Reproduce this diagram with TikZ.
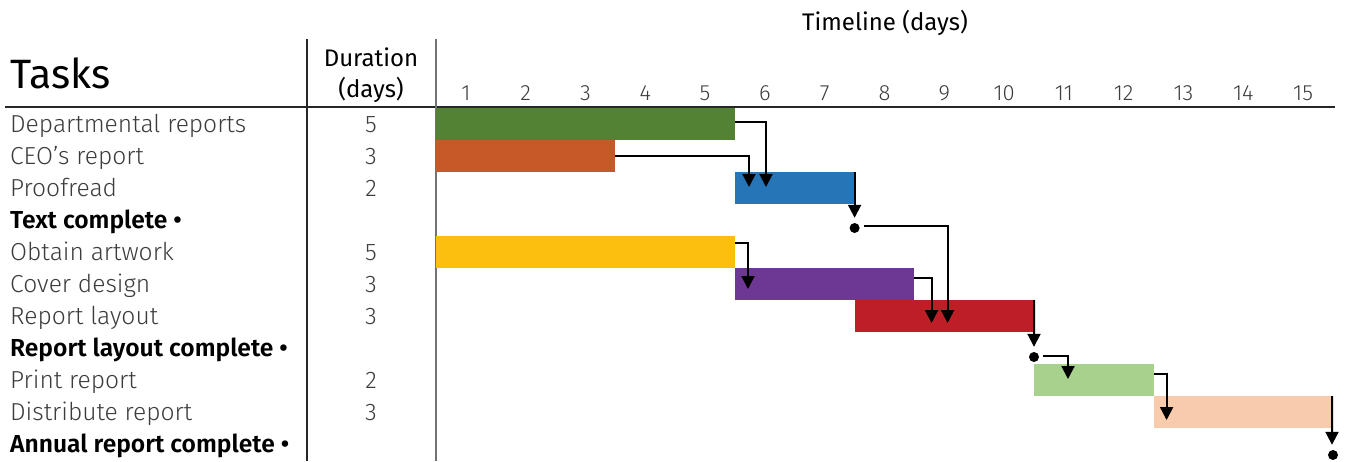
\documentclass[tikz,border=0pt]{standalone}
\usepackage{fontspec}
\setmainfont{Fira Sans}[UprightFont=* Light, BoldFont=* SemiBold]
\newfontfamily\regfont{Fira Sans}
\usetikzlibrary{arrows.meta,calc}
\definecolor{cgreen}{RGB}{84,130,53}
\definecolor{corange}{RGB}{197,90,40}
\definecolor{cblue}{RGB}{38,117,182}
\definecolor{cyellow}{RGB}{252,191,16}
\definecolor{cpurple}{RGB}{109,56,148}
\definecolor{cred}{RGB}{190,30,38}
\definecolor{clgreen}{RGB}{169,209,142}
\definecolor{cpeach}{RGB}{248,203,173}
\definecolor{ctext}{RGB}{60,60,60}
\begin{document}
\begin{tikzpicture}[x=1pt,y=-1pt,
  bar/.style={anchor=north west, minimum height=32pt, inner sep=0pt, outer sep=0pt},
  ms/.style={circle, fill=black, minimum size=10pt, inner sep=0pt},
  dep/.style={line width=2pt, -{Triangle[width=13pt,length=13pt]}},
  rule/.style={line width=1.2pt, black!85},
  task/.style={anchor=base west, inner sep=0pt, font=\fontsize{24.6}{28}\selectfont, text=ctext},
  mtask/.style={anchor=base west, inner sep=0pt, font=\fontsize{24.6}{28}\bfseries, text=black},
  dur/.style={anchor=base, inner sep=0pt, font=\fontsize{24}{28}\selectfont, text=ctext},
  day/.style={anchor=base, inner sep=0pt, font=\fontsize{22}{26}\selectfont, text=ctext},
  head/.style={anchor=base, inner sep=0pt, font=\fontsize{24}{28}\regfont, text=black}]
\useasboundingbox (0,0) rectangle (1345,461);
\def\W{59.8}
% table rules
\draw[rule] (5,107) -- (1335,107);
\draw[rule] (307,39) -- (307,461);
\draw[rule, black!55] (436,39) -- (436,461);
% headings
\node[anchor=base west, inner sep=0pt, font=\fontsize{41}{46}\regfont] (tasks) at (10,88) {Tasks};
\node[head] (dur1) at (371,66) {Duration};
\node[head] (dur2) at (371,97) {(days)};
\node[head] (tl) at (885,30) {Timeline (days)};
\foreach \d in {1,...,15}{
  \node[day] (d\d) at ({436+\W*(\d-0.5)},100) {\d};
}
% task labels
\node[task] (t1) at (10,132) {Departmental reports};
\node[task] (t2) at (10,164) {CEO's report};
\node[task] (t3) at (10,196) {Proofread};
\node[mtask] (t4) at (10,228) {Text complete •};
\node[task] (t5) at (10,260) {Obtain artwork};
\node[task] (t6) at (10,292) {Cover design};
\node[task] (t7) at (10,324) {Report layout};
\node[mtask] (t8) at (10,356) {Report layout complete •};
\node[task] (t9) at (10,388) {Print report};
\node[task] (t10) at (10,420) {Distribute report};
\node[mtask] (t11) at (10,452) {Annual report complete •};
% durations
\node[dur] (u1) at (371,132) {5};
\node[dur] (u2) at (371,164) {3};
\node[dur] (u3) at (371,196) {2};
\node[dur] (u5) at (371,260) {5};
\node[dur] (u6) at (371,292) {3};
\node[dur] (u7) at (371,324) {3};
\node[dur] (u9) at (371,388) {2};
\node[dur] (u10) at (371,420) {3};
% bars
\node[bar, fill=cgreen, minimum width={5*\W pt}] (g) at (436,108) {};
\node[bar, fill=corange, minimum width={3*\W pt}] (o) at (436,140) {};
\node[bar, fill=cblue, minimum width={2*\W pt}] (p) at ({436+5*\W},172) {};
\node[bar, fill=cyellow, minimum width={5*\W pt}] (y) at (436,236) {};
\node[bar, fill=cpurple, minimum width={3*\W pt}] (pu) at ({436+5*\W},268) {};
\node[bar, fill=cred, minimum width={3*\W pt}] (r) at ({436+7*\W},300) {};
\node[bar, fill=clgreen, minimum width={2*\W pt}] (lg) at ({436+10*\W},364) {};
\node[bar, fill=cpeach, minimum width={3*\W pt}] (pe) at ({436+12*\W},396) {};
% milestones
\node[ms] (m1) at ({436+7*\W},228) {};
\node[ms] (m2) at ({436+10*\W},357) {};
\node[ms] (m3) at ({436+15*\W},455) {};
% dependencies
\draw[dep] ($(g.east)+(0,-2)$) -| ($(p.north west)+(31,15)$);
\draw[dep] (o.east) -| ($(p.north west)+(14,15)$);
\draw[dep, shorten >=5pt] (p.north east) -- (m1.north);
\draw[dep, shorten <=4pt] ($(m1.east)+(0,-2)$) -| ($(r.north west)+(93,23)$);
\draw[dep] ($(y.east)+(0,-9)$) -| ($(pu.north west)+(13,21)$);
\draw[dep] ($(pu.east)+(0,-6)$) -| ($(r.north west)+(77,23)$);
\draw[dep, shorten >=5pt] (r.north east) -- (m2.north);
\draw[dep, shorten <=4pt] ($(m2.east)+(0,-1)$) -| ($(lg.north west)+(34,15)$);
\draw[dep] ($(lg.east)+(0,-6)$) -| ($(pe.north west)+(13,24)$);
\draw[dep, shorten >=5pt] ($(pe.north east)+(-1,0)$) -- ($(m3.north)+(-1,0)$);
\end{tikzpicture}
\end{document}
